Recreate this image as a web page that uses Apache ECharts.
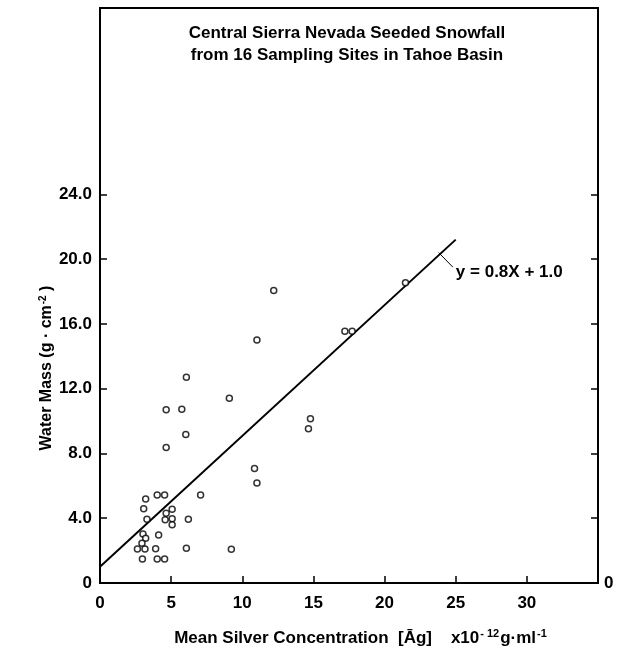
<!DOCTYPE html>
<html>
<head>
<meta charset="utf-8">
<title>Seeded Snowfall</title>
<script src="https://cdn.jsdelivr.net/npm/echarts@6/dist/echarts.min.js"></script>
<style>
  html, body { margin: 0; padding: 0; background: #fff; }
  #box1 { width: 625px; height: 652px; }
</style>
</head>
<body>
<div id="box1"></div>
<script>
// 数据：平均银浓度 (x10^-12 g/ml) 对 水质量 (g/cm2)
const aSilver = [
    6.07, 4.65, 5.75, 6.03, 4.65, 3.21, 4.02, 4.54, 7.07, 3.07,
    5.07, 4.65, 3.30, 4.58, 5.07, 6.21, 5.07, 3.02, 4.12, 3.21,
    2.95, 2.63, 3.16, 3.91, 6.07, 2.98, 4.02, 4.54, 9.23,
    12.21, 11.03, 9.09, 14.79, 14.65, 10.86, 11.03,
    21.47, 17.21, 17.72,
];
const aWater = [
    12.7, 10.7, 10.72, 9.17, 8.37, 5.19, 5.44, 5.44, 5.44, 4.58,
    4.56, 4.31, 3.94, 3.90, 3.96, 3.94, 3.59, 3.03, 2.97, 2.76,
    2.46, 2.10, 2.10, 2.12, 2.15, 1.48, 1.48, 1.48, 2.08,
    18.06, 15.01, 11.40, 10.14, 9.52, 7.07, 6.18,
    18.53, 15.54, 15.54,
];
// 回归线 y = 0.8X + 1.0 两端
const aFitX = [0, 25];
const aFitY = [1.0, 21.2];
// 标注引线
const aLeaderX = [23.8, 24.8];
const aLeaderY = [20.4, 19.5];

const aXTicks = [0, 5, 10, 15, 20, 25, 30];
const aYTicks = [0, 4, 8, 12, 16, 20, 24];

const sFont = '"Liberation Sans", Arial, sans-serif';

const oAxisLine = { show: true, lineStyle: { color: '#000', width: 2 } };
const oTick = (aVals) => ({
    show: true, inside: true, length: 7, customValues: aVals,
    lineStyle: { color: '#000', width: 1.5 },
});
const oLabel = {
    color: '#000', fontSize: 17, fontWeight: 'bold', fontFamily: sFont,
};

const myChart = echarts.init(document.getElementById('box1'));
const option = {
    animation: false,
    backgroundColor: '#fff',
    grid: {
        left: 100, right: 27, top: 8, bottom: 69,
        show: true, borderColor: '#000', borderWidth: 2,
    },
    xAxis: {
        type: 'value', min: 0, max: 35, interval: 5,
        axisLine: oAxisLine,
        axisTick: oTick(aXTicks.slice(1)),
        axisLabel: { ...oLabel, margin: 12, customValues: aXTicks },
        splitLine: { show: false },
    },
    yAxis: [{
        type: 'value', min: 0, max: 35.5, interval: 4, position: 'left',
        axisLine: oAxisLine,
        axisTick: oTick(aYTicks.slice(1)),
        axisLabel: {
            ...oLabel, margin: 8, customValues: aYTicks,
            formatter: v => v === 0 ? '0' : v.toFixed(1),
        },
        splitLine: { show: false },
    }, {
        type: 'value', min: 0, max: 35.5, interval: 4, position: 'right',
        axisLine: oAxisLine,
        axisTick: oTick(aYTicks.slice(1)),
        axisLabel: { ...oLabel, margin: 6, customValues: [0] },
        splitLine: { show: false },
    }],
    series: [{
        name: 'fit',
        type: 'line',
        data: aFitX.map((x, i) => [x, aFitY[i]]),
        showSymbol: false,
        lineStyle: { color: '#000', width: 2 },
        z: 2,
    }, {
        name: 'leader',
        type: 'line',
        data: aLeaderX.map((x, i) => [x, aLeaderY[i]]),
        showSymbol: false,
        lineStyle: { color: '#000', width: 1 },
        endLabel: {
            show: true,
            formatter: 'y = 0.8X + 1.0',
            ...oLabel,
            distance: 3,
            offset: [0, 5],
        },
    }, {
        name: 'sites',
        type: 'scatter',
        data: aSilver.map((x, i) => [x, aWater[i]]),
        symbol: 'circle',
        symbolSize: 6,
        itemStyle: { color: '#fff', borderColor: '#000', borderWidth: 1.5 },
        z: 3,
    }],
    graphic: [{
        type: 'text', x: 347, y: 44,
        style: {
            text: 'Central Sierra Nevada Seeded Snowfall\nfrom 16 Sampling Sites in Tahoe Basin',
            fill: '#000', font: 'bold 17px ' + sFont, lineHeight: 22,
            textAlign: 'center', textVerticalAlign: 'middle',
        },
    }, {
        type: 'text', x: 361, y: 638,
        style: {
            text: 'Mean Silver Concentration  [Āg]    x10{sup|- 12}g·ml{sup|-1}',
            fill: '#000', font: 'bold 17px ' + sFont,
            textAlign: 'center', textVerticalAlign: 'middle',
            rich: { sup: { fontSize: 11, fontWeight: 'bold', verticalAlign: 'top', padding: [0, 1, 9, 1] } },
        },
    }, {
        type: 'text', x: 47, y: 368, rotation: Math.PI / 2,
        style: {
            text: 'Water Mass (g · cm{sup|-2} )',
            fill: '#000', font: 'bold 16px ' + sFont,
            textAlign: 'center', textVerticalAlign: 'middle',
            rich: { sup: { fontSize: 10, fontWeight: 'bold', verticalAlign: 'top', padding: [0, 0, 8, 1] } },
        },
    }],
};
myChart.setOption(option);
</script>
</body>
</html>
